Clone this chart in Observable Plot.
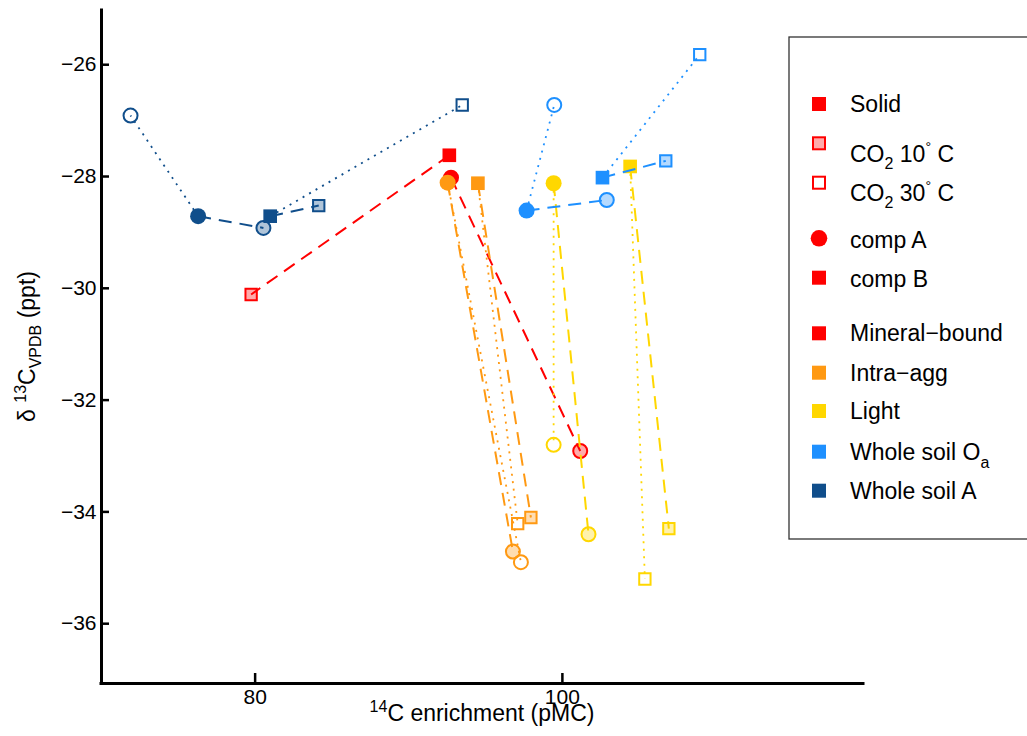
<!DOCTYPE html>
<html>
<head>
<meta charset="utf-8">
<script src="https://cdn.jsdelivr.net/npm/d3@7"></script>
<script src="https://cdn.jsdelivr.net/npm/@observablehq/plot@0.6"></script>
<style>
  body { margin: 0; background: #fff; }
  #chart { position: relative; width: 1027px; height: 736px; }
</style>
</head>
<body>
<div id="chart"></div>
<script>
// Soil organic carbon fractions and their colours
const fractions = ["Mineral−bound", "Intra−agg", "Light", "Whole soil Oa", "Whole soil A"];
const fractionColors = ["#FF0000", "#FF9912", "#FFD700", "#1E90FF", "#104E8B"];
const components = ["comp A", "comp B"];
const treatments = ["Solid", "CO2 10°C", "CO2 30°C"];

// Values per fraction, ordered: comp A (Solid, CO2 10°C, CO2 30°C), comp B (Solid, CO2 10°C, CO2 30°C)
// 14C enrichment (pMC)
const pmcMineral = [92.75, 101.16, null, 92.64, 79.74, null];
const pmcIntra   = [92.53, 96.78, 97.30, 94.50, 97.95, 97.09];
const pmcLight   = [99.43, 101.70, 99.43, 104.41, 106.93, 105.37];
const pmcSoilOa  = [97.67, 102.89, 99.47, 102.61, 106.73, 108.94];
const pmcSoilA   = [76.29, 80.54, 71.89, 80.98, 84.14, 93.48];
// δ13C VPDB (ppt)
const d13cMineral = [-28.02, -32.91, null, -27.62, -30.11, null];
const d13cIntra   = [-28.11, -34.71, -34.90, -28.12, -34.10, -34.21];
const d13cLight   = [-28.12, -34.40, -32.80, -27.82, -34.30, -35.20];
const d13cSoilOa  = [-28.61, -28.42, -26.72, -28.02, -27.72, -25.82];
const d13cSoilA   = [-28.71, -28.92, -26.91, -28.71, -28.52, -26.72];

// Axis setup
const xDomain = [70, 119.6];
const yDomain = [-37.07, -25.03];
const xTicks = [80, 100];
const yTicks = [-36, -34, -32, -30, -28, -26];

const W = 1027, H = 736;
const mLeft = 101, mRight = 164, mTop = 10, mBottom = 53;
const frameW = W - mLeft - mRight, frameH = H - mTop - mBottom;

const pmcAll = [pmcMineral, pmcIntra, pmcLight, pmcSoilOa, pmcSoilA];
const d13cAll = [d13cMineral, d13cIntra, d13cLight, d13cSoilOa, d13cSoilA];

// Flatten into rows
const rows = [];
fractions.forEach((f, i) => {
  components.forEach((c, j) => {
    treatments.forEach((t, k) => {
      const v = pmcAll[i][j * 3 + k];
      if (v == null) return;
      rows.push({fraction: f, color: fractionColors[i], comp: c, treatment: t, pmc: v, d13c: d13cAll[i][j * 3 + k]});
    });
  });
});

// Segments from each solid sample to its incubation CO2
const segments = [];
fractions.forEach(f => {
  components.forEach(c => {
    const solid = rows.find(r => r.fraction === f && r.comp === c && r.treatment === "Solid");
    if (!solid) return;
    for (const r of rows.filter(r => r.fraction === f && r.comp === c && r.treatment !== "Solid")) {
      segments.push({
        fraction: f, color: solid.color,
        kind: r.treatment === "CO2 10°C" ? "dashed" : "dotted",
        x1: solid.pmc, y1: solid.d13c, x2: r.pmc, y2: r.d13c
      });
    }
  });
});

const marks = [];
fractions.forEach(f => {
  const seg = segments.filter(s => s.fraction === f);
  marks.push(Plot.link(seg.filter(s => s.kind === "dashed"), {
    x1: "x1", y1: "y1", x2: "x2", y2: "y2", stroke: "color", strokeWidth: 2, strokeDasharray: "13,8"
  }));
  marks.push(Plot.link(seg.filter(s => s.kind === "dotted"), {
    x1: "x1", y1: "y1", x2: "x2", y2: "y2", stroke: "color", strokeWidth: 1.8, strokeDasharray: "2,5.5"
  }));
  for (const comp of components) {
    const pts = rows.filter(r => r.fraction === f && r.comp === comp);
    const circle = comp === "comp A";
    const symbol = circle ? "circle" : "square";
    marks.push(Plot.dot(pts.filter(r => r.treatment === "Solid"), {
      x: "pmc", y: "d13c", symbol, r: circle ? 8 : 7.7, fill: "color", stroke: "none"
    }));
    marks.push(Plot.dot(pts.filter(r => r.treatment === "CO2 10°C"), {
      x: "pmc", y: "d13c", symbol, r: circle ? 7 : 6.4, fill: "color", fillOpacity: 0.33, stroke: "color", strokeWidth: 2
    }));
    marks.push(Plot.dot(pts.filter(r => r.treatment === "CO2 30°C"), {
      x: "pmc", y: "d13c", symbol, r: circle ? 7 : 6.4, fill: "none", stroke: "color", strokeWidth: 2
    }));
  }
});

const font = "'Liberation Sans', Arial, sans-serif";

const svg = Plot.plot({
  width: W, height: H,
  marginLeft: mLeft, marginRight: mRight, marginTop: mTop, marginBottom: mBottom,
  style: {fontFamily: font, fontSize: "21px", background: "white", color: "black"},
  x: {domain: xDomain},
  y: {domain: yDomain},
  color: {type: "identity"},
  marks: [
    // inward ticks
    Plot.tickX(xTicks, {x: d => d, insetTop: frameH - 10, stroke: "black", strokeWidth: 2.5}),
    Plot.tickY(yTicks, {y: d => d, insetRight: frameW - 8, stroke: "black", strokeWidth: 2.5}),
    Plot.axisX({ticks: xTicks, tickSize: 0, tickPadding: 6, label: null, fontSize: 21}),
    Plot.axisY({ticks: yTicks, tickSize: 0, tickPadding: 5, label: null, fontSize: 21}),
    ...marks,
    // axis lines
    Plot.ruleX([xDomain[0]], {stroke: "black", strokeWidth: 3, strokeLinecap: "square"}),
    Plot.ruleY([yDomain[0]], {stroke: "black", strokeWidth: 3, strokeLinecap: "square"})
  ]
});

const root = d3.select(svg);

// x axis title
const xt = root.append("text")
  .attr("x", mLeft + frameW / 2).attr("y", 721)
  .attr("text-anchor", "middle").attr("font-size", 23).attr("font-family", font).attr("fill", "black");
xt.append("tspan").attr("font-size", 16).attr("dy", -9).text("14");
xt.append("tspan").attr("dy", 9).text("C enrichment (pMC)");

// y axis title
const yt = root.append("text")
  .attr("transform", `translate(35,${mTop + frameH / 2}) rotate(-90)`)
  .attr("text-anchor", "middle").attr("font-size", 23).attr("font-family", font).attr("fill", "black");
yt.append("tspan").text("δ ");
yt.append("tspan").attr("font-size", 16).attr("dy", -9).text("13");
yt.append("tspan").attr("dy", 9).text("C");
yt.append("tspan").attr("font-size", 16).attr("dy", 6).text("VPDB");
yt.append("tspan").attr("dy", -6).text(" (ppt)");

// Legend
const lg = root.append("g").attr("font-family", font).attr("font-size", 23)
  .attr("fill", "black").attr("text-anchor", "start");
lg.append("rect").attr("x", 789).attr("y", 37).attr("width", 300).attr("height", 502)
  .attr("fill", "white").attr("stroke", "#333").attr("stroke-width", 1.3);

const mx = 819, tx = 850;
const red = fractionColors[0];
function legendSquare(cy, fill, fillOpacity, stroke) {
  const s = stroke ? 12 : 14;
  lg.append("rect").attr("x", mx - s / 2).attr("y", cy - s / 2).attr("width", s).attr("height", s)
    .attr("fill", fill).attr("fill-opacity", fillOpacity)
    .attr("stroke", stroke || "none").attr("stroke-width", 2);
}
function legendText(y) {
  return lg.append("text").attr("x", tx).attr("y", y).attr("text-anchor", "start");
}
// Sample types
legendSquare(104, red, 1, null);
legendText(111.7).text("Solid");
legendSquare(143.3, red, 0.33, red);
legendSquare(182.7, "white", 1, red);
function co2Label(y, temp) {
  const t = legendText(y);
  t.append("tspan").text("CO");
  t.append("tspan").attr("font-size", 16).attr("dy", 7).text("2");
  t.append("tspan").attr("dy", -7).text(" " + temp);
  t.append("tspan").attr("font-size", 14).attr("dy", -10).text("°");
  t.append("tspan").attr("dy", 10).text(" C");
}
co2Label(161.7, "10");
co2Label(200.7, "30");
lg.append("circle").attr("cx", mx).attr("cy", 238.3).attr("r", 8.3).attr("fill", red);
legendText(248.3).text("comp A");
legendSquare(277.7, red, 1, null);
legendText(286.7).text("comp B");

// Fractions
const fy = [333.3, 372.7, 411, 451.7, 490.7];
fractions.forEach((f, i) => {
  legendSquare(fy[i], fractionColors[i], 1, null);
  const t = legendText(fy[i] + 8);
  if (f === "Whole soil Oa") {
    t.append("tspan").text("Whole soil O");
    t.append("tspan").attr("font-size", 16).attr("dy", 8).text("a");
  } else {
    t.text(f);
  }
});

document.getElementById("chart").appendChild(svg);
</script>
</body>
</html>
